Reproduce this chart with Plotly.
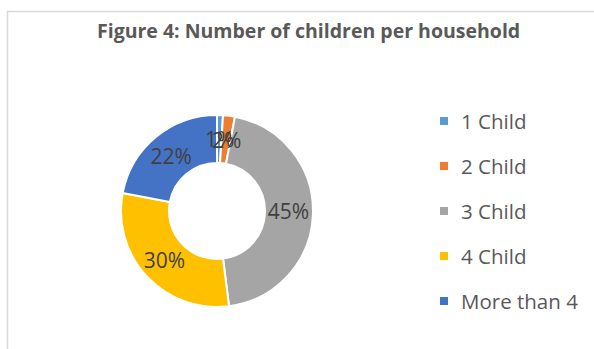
import math
import plotly.graph_objects as go

# Household composition data
categories = ["1 Child", "2 Child", "3 Child", "4 Child", "More than 4"]
shares = [1, 2, 45, 30, 22]
colors = ["#5B9BD5", "#ED7D31", "#A5A5A5", "#FFC000", "#4472C4"]
title_text = "Figure 4: Number of children per household"

W, H = 594, 349
FONT = "Open Sans, Liberation Sans, sans-serif"
TEXT_GREY = "#595959"
LABEL_GREY = "#404040"
LABEL_SIZE = 21

# donut geometry (pixels)
CX, CY, R_OUT, HOLE = 217, 211, 96, 0.5


def px(x):
    return x / W


def py(y):
    return 1 - y / H


total = sum(shares)
small = [v / total < 0.05 for v in shares]  # slices too narrow for inside labels

fig = go.Figure()

fig.add_trace(go.Pie(
    labels=categories,
    values=shares,
    marker=dict(colors=colors, line=dict(color="white", width=2)),
    hole=HOLE,
    sort=False,
    direction="clockwise",
    rotation=0,
    texttemplate="%{percent:.0%}",
    textposition=["none" if s else "inside" for s in small],
    insidetextorientation="horizontal",
    textfont=dict(family=FONT, size=LABEL_SIZE, color=LABEL_GREY),
    domain=dict(x=[px(CX - R_OUT), px(CX + R_OUT)], y=[py(CY + R_OUT), py(CY - R_OUT)]),
    showlegend=False,
    hoverinfo="label+percent",
))

shapes = [
    # chart frame
    dict(type="rect", xref="paper", yref="paper",
         x0=px(7.5), x1=px(W + 5), y0=py(H + 5), y1=py(11.5),
         line=dict(color="#D9D9D9", width=1.5), fillcolor="rgba(0,0,0,0)"),
]
annotations = [
    dict(text=f"<b>{title_text}</b>", x=px(308), y=py(30), xref="paper", yref="paper",
         showarrow=False, xanchor="center", yanchor="middle",
         font=dict(family=FONT, size=19.5, color=TEXT_GREY)),
]

# labels of the narrow slices sit at mid-ring, on the slice's bisector
r_mid = R_OUT * (1 + HOLE) / 2
cum = 0
for v, s in zip(shares, small):
    ang = 2 * math.pi * (cum + v / 2) / total
    cum += v
    if not s:
        continue
    annotations.append(dict(text=f"{round(100 * v / total)}%",
                            x=px(CX + r_mid * math.sin(ang)), y=py(CY - r_mid * math.cos(ang)),
                            xref="paper", yref="paper", showarrow=False,
                            xanchor="center", yanchor="middle",
                            font=dict(family=FONT, size=LABEL_SIZE, color=LABEL_GREY)))

# legend drawn as colour squares with labels
leg_x, leg_y0, leg_step, sq = 440, 121, 45, 8
for i, (name, col) in enumerate(zip(categories, colors)):
    yc = leg_y0 + i * leg_step
    shapes.append(dict(type="rect", xref="paper", yref="paper",
                       x0=px(leg_x), x1=px(leg_x + sq), y0=py(yc + sq / 2), y1=py(yc - sq / 2),
                       line=dict(width=0), fillcolor=col))
    annotations.append(dict(text=name, x=px(leg_x + sq + 11), y=py(yc), xref="paper", yref="paper",
                            showarrow=False, xanchor="left", yanchor="middle",
                            font=dict(family=FONT, size=20.5, color=TEXT_GREY)))

fig.update_layout(
    width=W, height=H,
    margin=dict(l=0, r=0, t=0, b=0),
    paper_bgcolor="white",
    plot_bgcolor="white",
    shapes=shapes,
    annotations=annotations,
    uniformtext=dict(minsize=LABEL_SIZE, mode="show"),
)

fig.write_html("out.html")
